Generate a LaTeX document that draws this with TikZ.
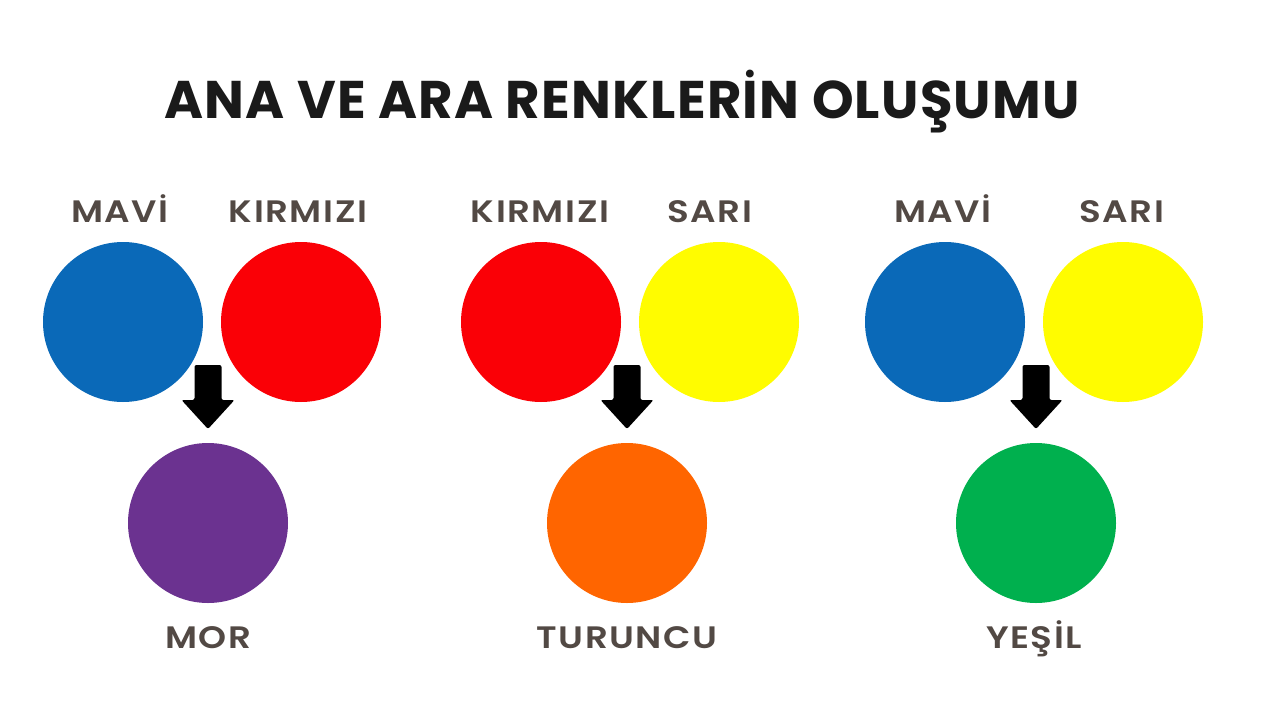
\documentclass[tikz,border=0pt]{standalone}
\usepackage{fontspec}
\setmainfont{Poppins}[UprightFont=* SemiBold, BoldFont=* Bold]
\newfontfamily\titlefont{Poppins Bold}[LetterSpace=2.3]
\newfontfamily\labelfont{Poppins SemiBold}[LetterSpace=5,FakeStretch=1.15]
\definecolor{cblue}{HTML}{0A69B8}
\definecolor{cred}{HTML}{FA0006}
\definecolor{cyellow}{HTML}{FFFC00}
\definecolor{cpurple}{HTML}{6B3290}
\definecolor{corange}{HTML}{FF6500}
\definecolor{cgreen}{HTML}{00B04E}
\definecolor{labelc}{HTML}{524944}
\definecolor{titlec}{HTML}{1A1A1A}
\begin{document}
\begin{tikzpicture}[x=1pt,y=-1pt,
  disc/.style={circle,minimum size=160pt,inner sep=0pt},
  lbl/.style={text=labelc,font=\labelfont\fontsize{31}{31}\selectfont,inner sep=0pt,anchor=base},
  downarrow/.style={fill=black,rounded corners=2pt}]
\useasboundingbox (0,0) rectangle (1280,720);
\fill[white] (0,0) rectangle (1280,720);
\node[text=titlec,font=\titlefont\fontsize{53}{53}\selectfont,inner sep=0pt,anchor=base] (title) at (622,118) {ANA VE ARA RENKLERİN OLUŞUMU};
% group 1
\node[disc,fill=cblue] (b1) at (123,322) {};
\node[disc,fill=cred] (r1) at (301,322) {};
\node[disc,fill=cpurple] (p1) at (208,523) {};
\node[lbl] (lb1) at (120,222) {MAVİ};
\node[lbl] (lr1) at (298,222) {KIRMIZI};
\node[lbl] (lp1) at (208,648) {MOR};
% group 2
\node[disc,fill=cred] (r2) at (541,322) {};
\node[disc,fill=cyellow] (y2) at (719,322) {};
\node[disc,fill=corange] (o2) at (627,523) {};
\node[lbl] (lr2) at (540,222) {KIRMIZI};
\node[lbl] (ly2) at (710,222) {SARI};
\node[lbl] (lo2) at (627,648) {TURUNCU};
% group 3
\node[disc,fill=cblue] (b3) at (945,322) {};
\node[disc,fill=cyellow] (y3) at (1123,322) {};
\node[disc,fill=cgreen] (g3) at (1036,523) {};
\node[lbl] (lb3) at (943,222) {MAVİ};
\node[lbl] (ly3) at (1122,222) {SARI};
\node[lbl] (lg3) at (1034,648) {YEŞİL};
% arrows
\foreach \cx/\nm in {208/a1,627/a2,1036/a3}{
  \coordinate (\nm) at (\cx,365);
  \fill[downarrow] ([xshift=-13.5pt]\nm) -- ([xshift=13.5pt]\nm) -- ([xshift=13.5pt,yshift=-35pt]\nm) -- ([xshift=26.5pt,yshift=-35pt]\nm) -- ([yshift=-64pt]\nm) -- ([xshift=-26.5pt,yshift=-35pt]\nm) -- ([xshift=-13.5pt,yshift=-35pt]\nm) -- cycle;
}
\end{tikzpicture}
\end{document}
